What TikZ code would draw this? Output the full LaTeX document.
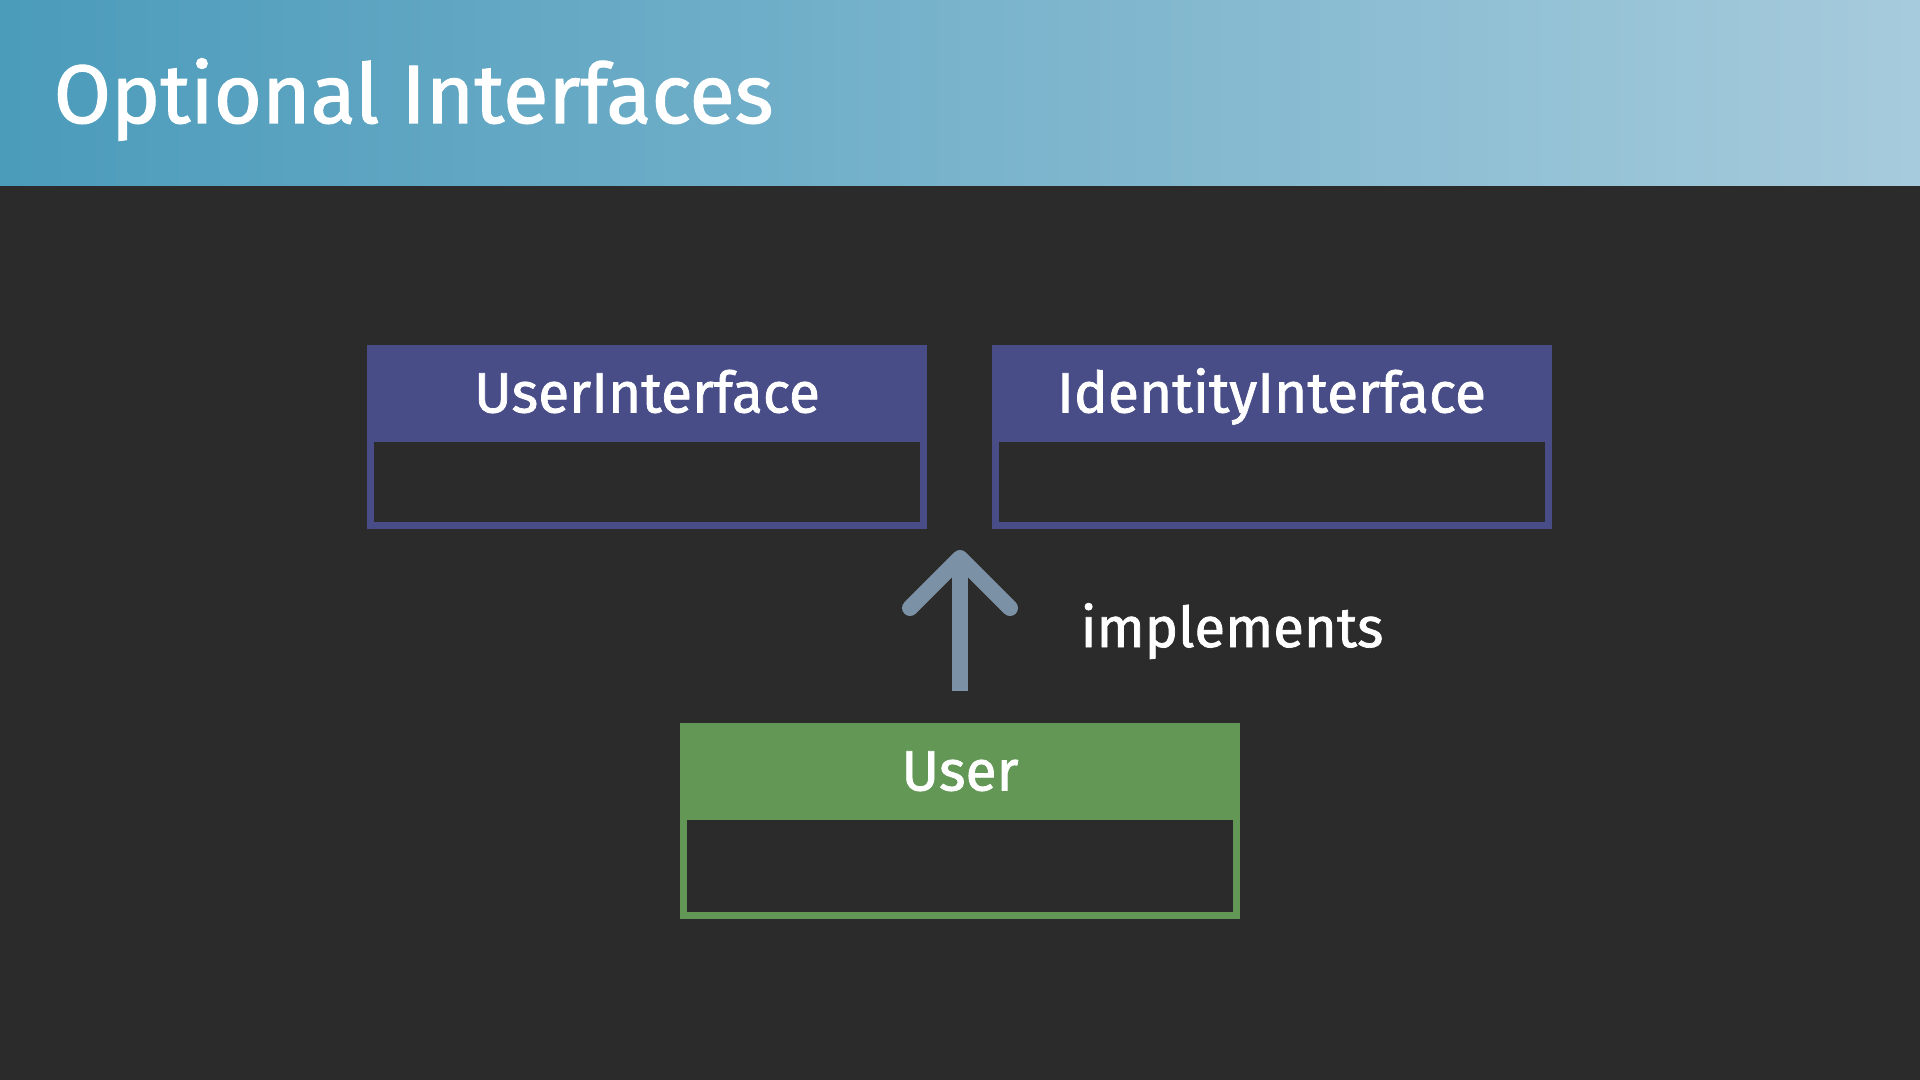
\documentclass[tikz,border=0pt]{standalone}
\usepackage{fontspec}
\setmainfont{Fira Sans}
\newfontfamily\medfont[FakeBold=1.3]{Fira Sans}
\usetikzlibrary{arrows.meta,positioning,calc}
\definecolor{slidebg}{HTML}{2B2B2B}
\definecolor{bannerL}{HTML}{4B9BBB}
\definecolor{bannerR}{HTML}{A6CBDC}
\definecolor{ifacecol}{HTML}{484C87}
\definecolor{classcol}{HTML}{629755}
\definecolor{implcol}{HTML}{7B91A5}
\tikzset{head/.style={minimum width=5.6cm,minimum height=.97cm,inner sep=0pt,outer sep=0pt,
           text=white,font=\medfont\fontsize{16.2}{19}\selectfont,text height=.38cm,text depth=0pt},
         body/.style={draw,line width=.07cm,fill=slidebg,minimum width=5.53cm,
           minimum height=.87cm,inner sep=0pt,below=-.07cm of #1},
         impl/.style={-{Straight Barb[length=.5cm,width=1cm,round]},line width=.16cm,implcol}}
\begin{document}
\begin{tikzpicture}
  \fill[slidebg] (0,0) rectangle (19.2,-10.8);
  \shade[left color=bannerL,right color=bannerR] (0,0) rectangle (19.2,-1.86);
  \node[anchor=base west,inner sep=0pt,text=white,font=\medfont\fontsize{23.6}{28}\selectfont] (title)
    at (.53,-1.23) {Optional Interfaces};
  % interfaces
  \node[head,fill=ifacecol] (uihead) at (6.47,-3.935) {UserInterface};
  \node[body=uihead,draw=ifacecol] (uibody) {};
  \node[head,fill=ifacecol] (idhead) at (12.715,-3.935) {IdentityInterface};
  \node[body=idhead,draw=ifacecol] (idbody) {};
  % class
  \node[head,fill=classcol] (userhead) at (9.6,-7.715) {User};
  \node[body=userhead,draw=classcol,minimum height=.99cm] (userbody) {};
  \coordinate (tail) at ($(userhead.north)+(0,.32)$);
  \coordinate (tip) at ($(tail)+(0,1.41)$);
  \draw[impl] (tail) -- (tip);
  \node[anchor=base west,inner sep=0pt,text=white,font=\medfont\fontsize{16}{19}\selectfont] (impllabel)
    at (10.8,-6.47) {implements};
\end{tikzpicture}
\end{document}
